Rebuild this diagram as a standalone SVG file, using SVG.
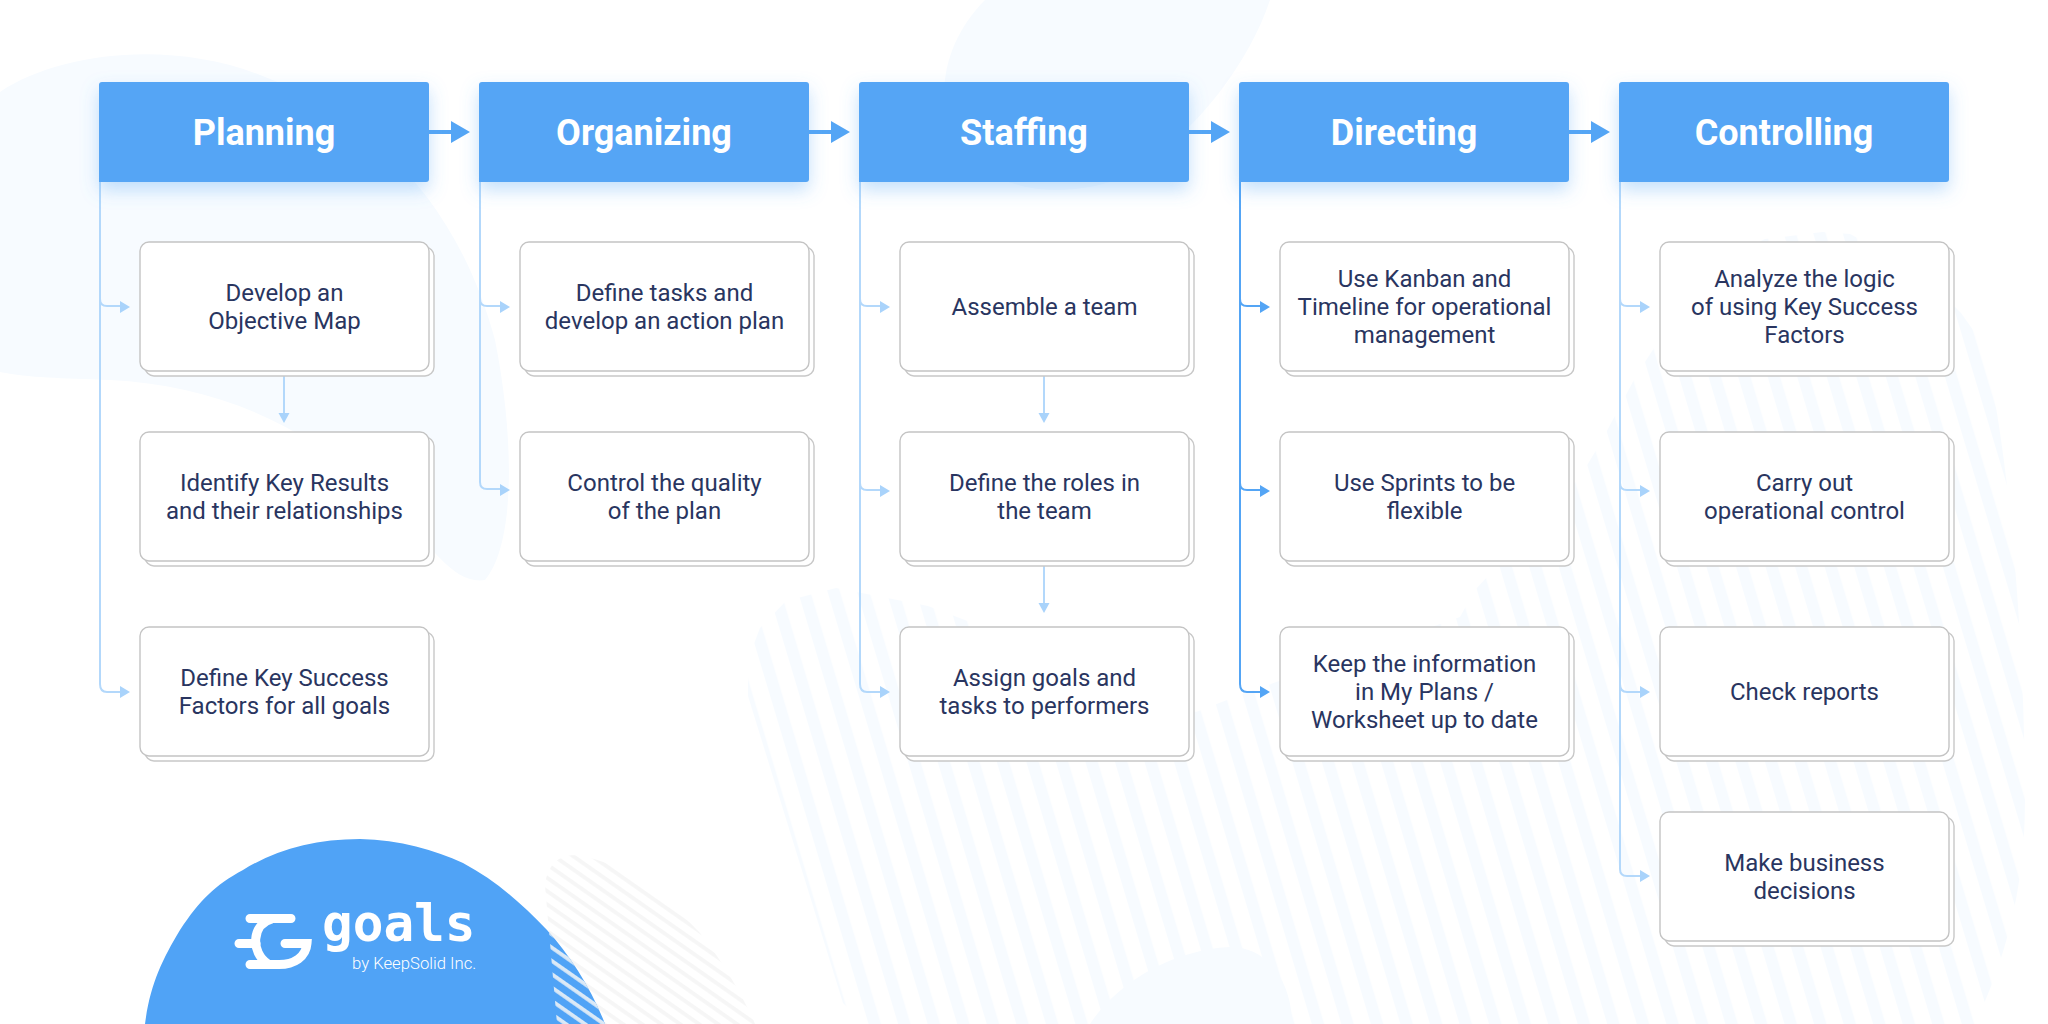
<svg xmlns="http://www.w3.org/2000/svg" width="2048" height="1024" viewBox="0 0 2048 1024">
<style>
.hd{fill:#54a5f5;filter:url(#sh)}
.hl{font:700 36px Roboto,"Liberation Sans",sans-serif;fill:#fff;text-anchor:middle}
.bk{fill:#fff;stroke:#c8c8c8;stroke-width:1.4}
.fr{fill:#fff;stroke:#c4c4c4;stroke-width:1.4}
.t{font:400 24px Roboto,"Liberation Sans",sans-serif;fill:#293560;text-anchor:middle}
.lt{fill:none;stroke:#b3d8fb;stroke-width:2}
.dk{fill:none;stroke:#54a5f5;stroke-width:2}
.lta{fill:#a9d3fb}
.dka{fill:#54a5f5}
.mn{fill:none;stroke:#54a5f5;stroke-width:4}
.pale{fill:#f7fbff}
</style>
<defs>
<filter id="sh" x="-15%" y="-30%" width="130%" height="170%"><feDropShadow dx="0" dy="8" stdDeviation="9" flood-color="#54a5f5" flood-opacity=".35"/></filter>
<pattern id="st" width="28.300" height="40" patternUnits="userSpaceOnUse" patternTransform="rotate(-16.700)"><rect width="12" height="40" fill="#f7fbff"/></pattern>
<pattern id="st2" width="30" height="10.900" patternUnits="userSpaceOnUse" patternTransform="rotate(35)"><rect width="30" height="3.800" fill="#f6f6f6"/></pattern>
<pattern id="st3" width="30" height="10.900" patternUnits="userSpaceOnUse" patternTransform="rotate(35)"><rect width="30" height="3.800" fill="#dbe9f6"/></pattern>
<clipPath id="lb"><path d="M145 1024C150 985 162 960 180 930C200 900 215 885 243 870C275 850 315 839 360 839C400 840 435 850 463 863C495 880 520 902 547 930C570 955 592 990 605 1024Z"/></clipPath>
</defs>
<rect width="2048" height="1024" fill="#fff"/>
<g id="background">
<path d="M0 92C60 52 170 40 260 75C380 120 460 210 495 340C515 440 515 545 485 580C450 585 430 540 380 495C300 420 210 385 110 380C60 378 30 378 0 372Z" class="pale"/>
<path d="M985 0C945 40 930 100 960 150C1000 195 1070 200 1130 175C1200 130 1250 60 1270 0Z" class="pale"/>
<path d="M1090 1024C1115 985 1170 950 1230 947C1270 947 1292 985 1292 1024Z" class="pale"/>
<path d="M748 696L748 660L760 628L786 601L836 588L928 606L986 628L1196 712L1240 695L1460 617L1475 590L1580 477L1601 442L1636 376L1654 348C1690 290 1730 255 1765 239L1822 232L1850 234C1890 255 1930 280 1961 313L1983 344C2010 450 2025 650 2025 800C2025 900 2000 970 1975 1024H864L843 1003Z" fill="url(#st)"/>
<path d="M545 885C548 860 565 850 590 858C620 865 660 890 700 933C725 965 745 1000 755 1024H557Z" fill="url(#st2)"/>
</g>
<g id="logo">
<path d="M145 1024C150 985 162 960 180 930C200 900 215 885 243 870C275 850 315 839 360 839C400 840 435 850 463 863C495 880 520 902 547 930C570 955 592 990 605 1024Z" fill="#50a3f6"/>
<path d="M545 885C548 860 565 850 590 858C620 865 660 890 700 933C725 965 745 1000 755 1024H557Z" fill="url(#st3)" clip-path="url(#lb)"/>
<path d="M250 918.500H291M239 943.500H256M285 943.500H307C306 957 294 964.500 279 964.500H250" fill="none" stroke="#fff" stroke-width="9" stroke-linecap="round"/>
<path d="M272 919C252 924 250 952 268 964" fill="none" stroke="#fff" stroke-width="9"/>
<text x="322" y="941" font-family="'DejaVu Sans Mono',monospace" font-weight="700" font-size="51" fill="#fff">goals</text>
<text x="352" y="969" font-family="Roboto,sans-serif" font-weight="300" font-size="16.700" fill="#fff">by KeepSolid Inc.</text>
</g>
<g id="connectors">
<path class="mn" d="M429 132H452M809 132H832M1189 132H1212M1569 132H1592"/>
<path class="dka" d="M451 121L470 132L451 143ZM831 121L850 132L831 143ZM1211 121L1230 132L1211 143ZM1591 121L1610 132L1591 143Z"/>
<path class="lt" d="M100 182V299Q100 306 107 306H122M100 299V684Q100 692 107 692H122"/>
<path class="lta" d="M120 301L130 307L120 313ZM120 686L130 692L120 698Z"/>
<path class="lt" d="M284 376V416"/><path class="lta" d="M278.500 413L284 423L289.500 413Z"/>
<path class="lt" d="M480 182V299Q480 306 487 306H502M480 299V482Q480 489 487 489H502"/>
<path class="lta" d="M500 301L510 307L500 313ZM500 484L510 490L500 496Z"/>
<path class="lt" d="M860 182V299Q860 306 867 306H882M860 299V483Q860 490 867 490H882M860 483V684Q860 692 867 692H882"/>
<path class="lta" d="M880 301L890 307L880 313ZM880 485L890 491L880 497ZM880 686L890 692L880 698Z"/>
<path class="lt" d="M1044 376V416M1044 566V605"/><path class="lta" d="M1038.500 413L1044 423L1049.500 413ZM1038.500 603L1044 613L1049.500 603Z"/>
<path class="dk" d="M1240 182V299Q1240 306 1247 306H1262M1240 299V483Q1240 490 1247 490H1262M1240 483V684Q1240 692 1247 692H1262"/>
<path class="dka" d="M1260 301L1270 307L1260 313ZM1260 485L1270 491L1260 497ZM1260 686L1270 692L1260 698Z"/>
<path class="lt" d="M1620 182V299Q1620 306 1627 306H1642M1620 299V483Q1620 490 1627 490H1642M1620 483V684Q1620 692 1627 692H1642M1620 684V869Q1620 876 1627 876H1642"/>
<path class="lta" d="M1640 301L1650 307L1640 313ZM1640 485L1650 491L1640 497ZM1640 686L1650 692L1640 698ZM1640 870L1650 876L1640 882Z"/>
</g>
<g id="headers">
<g id="h1"><path class="hd" d="M102 82H426Q429 82 429 85V179Q429 182 426 182H99V85Q99 82 102 82Z"/><text class="hl" x="264" y="145">Planning</text></g>
<g id="h2"><path class="hd" d="M482 82H806Q809 82 809 85V179Q809 182 806 182H479V85Q479 82 482 82Z"/><text class="hl" x="644" y="145">Organizing</text></g>
<g id="h3"><path class="hd" d="M862 82H1186Q1189 82 1189 85V179Q1189 182 1186 182H859V85Q859 82 862 82Z"/><text class="hl" x="1024" y="145">Staffing</text></g>
<g id="h4"><path class="hd" d="M1242 82H1566Q1569 82 1569 85V179Q1569 182 1566 182H1239V85Q1239 82 1242 82Z"/><text class="hl" x="1404" y="145">Directing</text></g>
<g id="h5"><path class="hd" d="M1622 82H1946Q1949 82 1949 85V179Q1949 182 1946 182H1619V85Q1619 82 1622 82Z"/><text class="hl" x="1784" y="145">Controlling</text></g>
</g>
<g id="n11"><rect class="bk" x="145" y="247" width="289" height="129" rx="9"/><rect class="fr" x="140" y="242" width="289" height="129" rx="9"/><text class="t" x="284.500" y="300.500">Develop an</text><text class="t" x="284.500" y="328.500">Objective Map</text></g>
<g id="n12"><rect class="bk" x="145" y="437" width="289" height="129" rx="9"/><rect class="fr" x="140" y="432" width="289" height="129" rx="9"/><text class="t" x="284.500" y="490.500">Identify Key Results</text><text class="t" x="284.500" y="518.500">and their relationships</text></g>
<g id="n13"><rect class="bk" x="145" y="632" width="289" height="129" rx="9"/><rect class="fr" x="140" y="627" width="289" height="129" rx="9"/><text class="t" x="284.500" y="685.500">Define Key Success</text><text class="t" x="284.500" y="713.500">Factors for all goals</text></g>
<g id="n21"><rect class="bk" x="525" y="247" width="289" height="129" rx="9"/><rect class="fr" x="520" y="242" width="289" height="129" rx="9"/><text class="t" x="664.500" y="300.500">Define tasks and</text><text class="t" x="664.500" y="328.500">develop an action plan</text></g>
<g id="n22"><rect class="bk" x="525" y="437" width="289" height="129" rx="9"/><rect class="fr" x="520" y="432" width="289" height="129" rx="9"/><text class="t" x="664.500" y="490.500">Control the quality</text><text class="t" x="664.500" y="518.500">of the plan</text></g>
<g id="n31"><rect class="bk" x="905" y="247" width="289" height="129" rx="9"/><rect class="fr" x="900" y="242" width="289" height="129" rx="9"/><text class="t" x="1044.500" y="314.500">Assemble a team</text></g>
<g id="n32"><rect class="bk" x="905" y="437" width="289" height="129" rx="9"/><rect class="fr" x="900" y="432" width="289" height="129" rx="9"/><text class="t" x="1044.500" y="490.500">Define the roles in</text><text class="t" x="1044.500" y="518.500">the team</text></g>
<g id="n33"><rect class="bk" x="905" y="632" width="289" height="129" rx="9"/><rect class="fr" x="900" y="627" width="289" height="129" rx="9"/><text class="t" x="1044.500" y="685.500">Assign goals and</text><text class="t" x="1044.500" y="713.500">tasks to performers</text></g>
<g id="n41"><rect class="bk" x="1285" y="247" width="289" height="129" rx="9"/><rect class="fr" x="1280" y="242" width="289" height="129" rx="9"/><text class="t" x="1424.500" y="286.500">Use Kanban and</text><text class="t" x="1424.500" y="314.500">Timeline for operational</text><text class="t" x="1424.500" y="342.500">management</text></g>
<g id="n42"><rect class="bk" x="1285" y="437" width="289" height="129" rx="9"/><rect class="fr" x="1280" y="432" width="289" height="129" rx="9"/><text class="t" x="1424.500" y="490.500">Use Sprints to be</text><text class="t" x="1424.500" y="518.500">flexible</text></g>
<g id="n43"><rect class="bk" x="1285" y="632" width="289" height="129" rx="9"/><rect class="fr" x="1280" y="627" width="289" height="129" rx="9"/><text class="t" x="1424.500" y="671.500">Keep the information</text><text class="t" x="1424.500" y="699.500">in My Plans /</text><text class="t" x="1424.500" y="727.500">Worksheet up to date</text></g>
<g id="n51"><rect class="bk" x="1665" y="247" width="289" height="129" rx="9"/><rect class="fr" x="1660" y="242" width="289" height="129" rx="9"/><text class="t" x="1804.500" y="286.500">Analyze the logic</text><text class="t" x="1804.500" y="314.500">of using Key Success</text><text class="t" x="1804.500" y="342.500">Factors</text></g>
<g id="n52"><rect class="bk" x="1665" y="437" width="289" height="129" rx="9"/><rect class="fr" x="1660" y="432" width="289" height="129" rx="9"/><text class="t" x="1804.500" y="490.500">Carry out</text><text class="t" x="1804.500" y="518.500">operational control</text></g>
<g id="n53"><rect class="bk" x="1665" y="632" width="289" height="129" rx="9"/><rect class="fr" x="1660" y="627" width="289" height="129" rx="9"/><text class="t" x="1804.500" y="699.500">Check reports</text></g>
<g id="n54"><rect class="bk" x="1665" y="817" width="289" height="129" rx="9"/><rect class="fr" x="1660" y="812" width="289" height="129" rx="9"/><text class="t" x="1804.500" y="870.500">Make business</text><text class="t" x="1804.500" y="898.500">decisions</text></g>
</svg>
